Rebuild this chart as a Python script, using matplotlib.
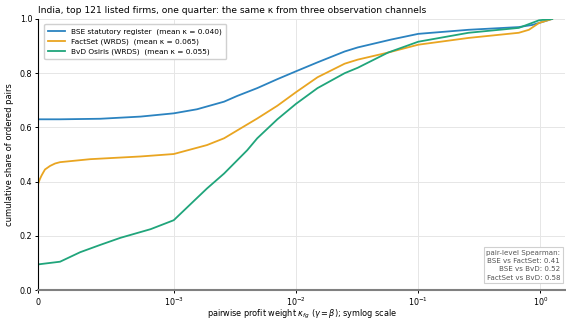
import numpy as np
import matplotlib.pyplot as plt

# ECDF of pairwise profit weights, read at a few kappa values per source
kappa_bse = [0, 0, 1.63e-4, 4.59e-4, 7.56e-4, 1e-3, 1.55e-3, 2.58e-3, 3.30e-3, 4.82e-3,
             7.04e-3, 1e-2, 0.015, 0.025, 0.032, 0.060, 0.1, 0.258, 0.665, 0.86, 1.11, 1.245]
share_bse = [0, 0.63, 0.63, 0.632, 0.64, 0.652, 0.667, 0.695, 0.716, 0.745,
             0.778, 0.807, 0.84, 0.88, 0.895, 0.924, 0.945, 0.96, 0.97, 0.978, 0.993, 1.0]

kappa_fs = [0, 0, 7.4e-6, 1.48e-5, 2.6e-5, 3.7e-5, 5.2e-5, 8.9e-5, 1.26e-4, 1.63e-4, 3.85e-4,
            7.56e-4, 1e-3, 1.87e-3, 2.58e-3, 3.99e-3, 4.82e-3, 7.04e-3, 1e-2, 0.015, 0.025,
            0.032, 0.0566, 0.1, 0.258, 0.665, 0.804, 0.972, 1.245]
share_fs = [0, 0.39, 0.40, 0.41, 0.422, 0.432, 0.445, 0.458, 0.467, 0.472, 0.483,
            0.493, 0.502, 0.535, 0.56, 0.611, 0.633, 0.68, 0.73, 0.785, 0.835,
            0.85, 0.876, 0.905, 0.93, 0.949, 0.96, 0.985, 1.0]

kappa_bvd = [0, 0, 1.63e-4, 3.11e-4, 4.59e-4, 6.07e-4, 8.3e-4, 1e-3, 1.55e-3, 1.87e-3,
             2.58e-3, 3.99e-3, 4.82e-3, 7.04e-3, 1e-2, 0.015, 0.025, 0.032, 0.0566, 0.1,
             0.258, 0.665, 0.972, 1.245]
share_bvd = [0, 0.095, 0.105, 0.14, 0.167, 0.193, 0.225, 0.258, 0.34, 0.375,
             0.43, 0.516, 0.56, 0.63, 0.687, 0.745, 0.80, 0.82, 0.876, 0.916,
             0.949, 0.967, 0.995, 1.0]

labels = ["BSE statutory register  (mean κ = 0.040)",
          "FactSet (WRDS)  (mean κ = 0.065)",
          "BvD Osiris (WRDS)  (mean κ = 0.055)"]
colors = ["#2b83c0", "#e9a521", "#20a57b"]

spearman = [("BSE vs FactSet", 0.41), ("BSE vs BvD", 0.52), ("FactSet vs BvD", 0.58)]

fig = plt.figure(figsize=(5.66, 3.21), dpi=100)
ax = fig.add_axes([0.067, 0.096, 0.932, 0.845])

ax.plot(kappa_bse, share_bse, color=colors[0], lw=1.3, label=labels[0])
ax.plot(kappa_fs, share_fs, color=colors[1], lw=1.3, label=labels[1])
ax.plot(kappa_bvd, share_bvd, color=colors[2], lw=1.3, label=labels[2])

ax.set_xscale("symlog", linthresh=1e-3, linscale=1.0)
ax.set_xlim(0, 1.6)
ax.set_ylim(0, 1.0)
ax.set_xticks([0, 1e-3, 1e-2, 1e-1, 1e0])
ax.xaxis.set_minor_locator(plt.NullLocator())
ax.set_yticks(np.arange(0, 1.01, 0.2))
ax.grid(True, color="#e6e6e6", lw=0.7)
ax.set_axisbelow(True)

for s in ["top", "right"]:
    ax.spines[s].set_visible(False)
ax.spines["left"].set_color("black")
ax.spines["bottom"].set_color("#808080")
ax.spines["bottom"].set_linewidth(1.5)
ax.tick_params(labelsize=5.8, length=2.5, width=0.7, pad=1.5)

ax.set_xlabel(r"pairwise profit weight $\kappa_{fg}$ ($\gamma=\beta$); symlog scale",
              fontsize=5.9, labelpad=0)
ax.set_ylabel("cumulative share of ordered pairs", fontsize=6, labelpad=4)
ax.set_title("India, top 121 listed firms, one quarter: the same κ from three observation channels",
             fontsize=6.6, loc="left", pad=4)

ax.legend(loc="upper left", fontsize=5.3, frameon=True, framealpha=1.0,
          edgecolor="#d0d0d0", borderpad=0.55, handlelength=2.3, labelspacing=0.5,
          bbox_to_anchor=(0.005, 0.995))

txt = "pair-level Spearman:\n" + "\n".join(f"{a}: {v:.2f}" for a, v in spearman)
ax.text(0.99, 0.035, txt, transform=ax.transAxes, ha="right", va="bottom",
        fontsize=5.1, color="#555555", multialignment="right", linespacing=1.45,
        bbox=dict(boxstyle="square,pad=0.35", fc="white", ec="#d0d0d0", lw=0.8))

fig.savefig("out.png", dpi=100)
